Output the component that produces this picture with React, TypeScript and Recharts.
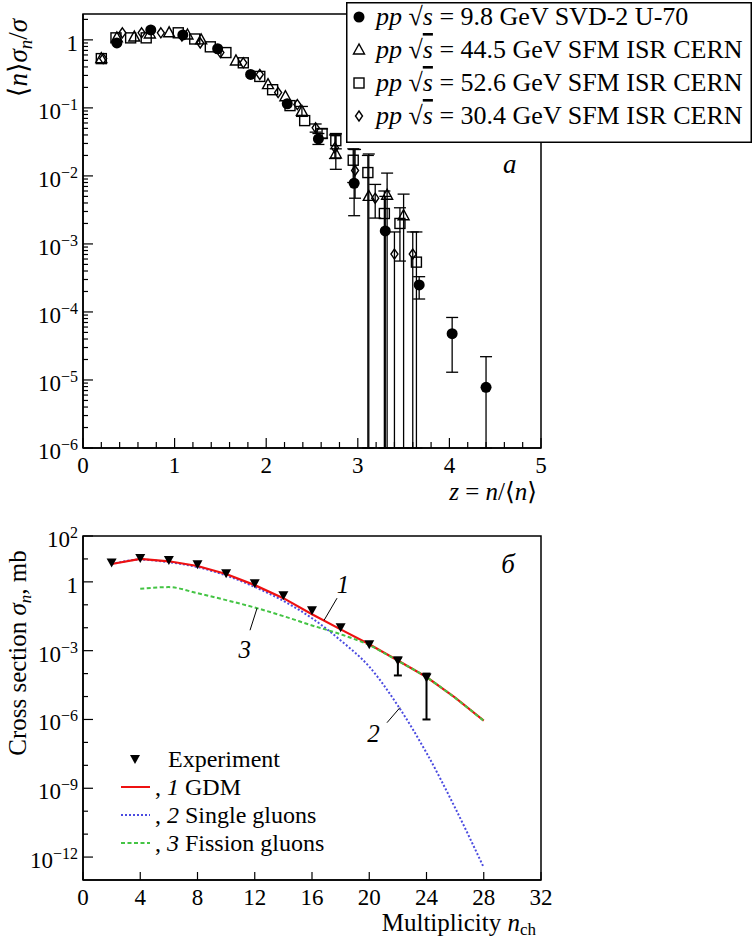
import React from 'react';
import {
  ScatterChart, ComposedChart, Scatter, Line, XAxis, YAxis, ErrorBar,
  ReferenceArea, ReferenceLine, ReferenceDot, Legend,
} from 'recharts';

const FONT = '"Liberation Serif", "DejaVu Serif", serif';
const LOW = 1e-6;      // bottom of the upper panel, error bars that go "below zero" end here
const TOP_MAX = 2.4;
const GAP = 6;         // tickMargin used by the custom ticks

// ---- upper panel: <n> sigma_n / sigma  vs  z = n/<n> ----
// pp sqrt(s) = 9.8 GeV SVD-2 U-70
const z98 = [0.37, 0.74, 1.09, 1.47, 1.83, 2.23, 2.57, 2.96, 3.30, 3.67, 4.03, 4.40];
const v98 = [0.90, 1.40, 1.18, 0.74, 0.31, 0.115, 0.035, 0.0078, 0.00155, 2.5e-4, 4.8e-5, 7.8e-6];
const lo98 = [null, null, null, null, null, null, 0.029, 0.0026, LOW, 1.55e-4, 1.3e-5, LOW];
const hi98 = [null, null, null, null, null, null, 0.042, 0.0245, 0.005, 3.3e-4, 8.3e-5, 2.2e-5];

// pp sqrt(s) = 44.5 GeV SFM ISR CERN
const z445 = [0.20, 0.37, 0.56, 0.73, 0.94, 1.14, 1.29, 1.67, 2.02, 2.21, 2.39, 2.76, 3.12, 3.32, 3.50];
const v445 = [0.53, 1.07, 1.10, 1.22, 1.27, 1.18, 1.00, 0.49, 0.22, 0.146, 0.089, 0.021, 0.0050, 0.0052, 0.0026];
const lo445 = [null, null, null, null, null, null, null, null, null, null, 0.075, 0.0125, LOW, LOW, LOW];
const hi445 = [null, null, null, null, null, null, null, null, null, null, 0.105, 0.041, 0.021, 0.011, 0.0054];

// pp sqrt(s) = 52.6 GeV SFM ISR CERN
const z526 = [0.20, 0.36, 0.52, 0.69, 1.04, 1.22, 1.39, 1.56, 1.75, 1.93, 2.07, 2.26, 2.42, 2.61, 2.76, 2.95, 3.11, 3.29, 3.46, 3.64];
const v526 = [0.53, 1.07, 1.07, 1.07, 1.27, 1.03, 0.79, 0.65, 0.46, 0.29, 0.185, 0.108, 0.065, 0.042, 0.033, 0.017, 0.0112, 0.0028, 0.0020, 5.4e-4];
const lo526 = [null, null, null, null, null, null, null, null, null, null, null, null, null, 0.036, 0.025, 0.008, LOW, LOW, 5.6e-4, LOW];
const hi526 = [null, null, null, null, null, null, null, null, null, null, null, null, null, 0.049, 0.042, 0.025, 0.02, 0.006, 0.0034, 0.0015];

// pp sqrt(s) = 30.4 GeV SFM ISR CERN
const z304 = [0.22, 0.43, 0.64, 0.85, 1.08, 1.28, 1.50, 1.75, 1.93, 2.13, 2.34, 2.54, 2.75, 2.97, 3.19, 3.40, 3.60];
const v304 = [0.53, 1.27, 1.27, 1.27, 1.14, 0.90, 0.65, 0.46, 0.31, 0.168, 0.112, 0.051, 0.026, 0.012, 0.0047, 7.1e-4, 7.1e-4];
const lo304 = [null, null, null, null, null, null, null, null, null, null, null, 0.044, 0.018, 0.0047, 0.0024, LOW, LOW];
const hi304 = [null, null, null, null, null, null, null, null, null, null, null, 0.058, 0.04, 0.0245, 0.0075, 0.0015, 0.0015];

const topLegendLabels = [
  '9.8 GeV SVD-2 U-70',
  '44.5 GeV SFM ISR CERN',
  '52.6 GeV SFM ISR CERN',
  '30.4 GeV SFM ISR CERN',
];

// ---- lower panel: cross section vs multiplicity ----
const nExp = [2, 4, 6, 8, 10, 12, 14, 16, 18, 20, 22, 24];
const sExp = [7, 11, 9, 5.9, 2.4, 0.87, 0.26, 0.058, 0.0105, 0.0019, 3.7e-4, 6.8e-5];
const sExpLo = [null, null, null, null, null, null, null, null, null, null, 8.3e-5, 1e-6];
const sExpHi = [null, null, null, null, null, null, null, null, null, null, 5e-4, 1e-4];

const nTheory = [2, 4, 6, 8, 10, 12, 14, 16, 18, 20, 22, 24, 26, 28];
const sGDM = [6.0, 10, 7.9, 4.9, 2.19, 0.72, 0.195, 0.039, 0.0085, 0.0019, 3.7e-4, 7.1e-5, 8.9e-6, 8.9e-7];
const sSingle = [5.9, 9.3, 7.2, 4.4, 1.9, 0.6, 0.148, 0.026, 0.0028, 2.0e-4, 4e-6, 3.5e-8, 1.4e-10, 3.5e-13];
const nFission = [4, 6, 8, 10, 12, 14, 16, 18, 20, 22, 24, 26, 28];
const sFission = [0.5, 0.59, 0.32, 0.16, 0.076, 0.032, 0.0126, 0.0052, 0.00174, 3.6e-4, 6.9e-5, 8.7e-6, 8.7e-7];

const bottomLegendLabels = ['Experiment', 'GDM', 'Single gluons', 'Fission gluons'];

// ticks
const topXMajor = [0, 1, 2, 3, 4, 5];
const topXTicks = Array.from({ length: 26 }, (_, i) => +(i * 0.2).toFixed(1));
const topYMajor = [1e-6, 1e-5, 1e-4, 1e-3, 1e-2, 1e-1, 1];
const topYTicks: number[] = [];
topYMajor.forEach((m) => {
  for (let k = 1; k <= 9; k++) if (m * k <= TOP_MAX) topYTicks.push(m * k);
});
const botXTicks = [0, 4, 8, 12, 16, 20, 24, 28, 32];
const botYMajorExp = [2, 0, -3, -6, -9, -12];
const botYTicks = Array.from({ length: 15 }, (_, i) => Math.pow(10, 2 - i));

type Pt = { x: number; y: number; err?: [number, number] };
const build = (xs: number[], ys: number[], lo?: (number | null)[], hi?: (number | null)[]): Pt[] =>
  xs.map((x, i) => {
    const l = lo ? lo[i] : null;
    const h = hi ? hi[i] : null;
    return { x, y: ys[i], err: l != null && h != null ? [ys[i] - l, h - ys[i]] : undefined };
  });

const d98 = build(z98, v98, lo98, hi98);
const d445 = build(z445, v445, lo445, hi445);
const d526 = build(z526, v526, lo526, hi526);
const d304 = build(z304, v304, lo304, hi304);
const dExp = build(nExp, sExp, sExpLo, sExpHi);
const dGDM = build(nTheory, sGDM);
const dSingle = build(nTheory, sSingle);
const dFission = build(nFission, sFission);

// markers
const Dot = ({ cx, cy }: any) => <circle cx={cx} cy={cy} r={5.5} fill="#000" />;
const Tri = ({ cx, cy }: any) => (
  <polygon points={`${cx},${cy - 6} ${cx - 5.5},${cy + 4} ${cx + 5.5},${cy + 4}`} fill="none" stroke="#000" strokeWidth={1.4} />
);
const Sq = ({ cx, cy }: any) => (
  <rect x={cx - 5} y={cy - 5} width={10} height={10} fill="none" stroke="#000" strokeWidth={1.4} />
);
const Dia = ({ cx, cy }: any) => (
  <polygon points={`${cx},${cy - 5} ${cx + 3.5},${cy} ${cx},${cy + 5} ${cx - 3.5},${cy}`} fill="none" stroke="#000" strokeWidth={1.4} />
);
const DownTri = ({ cx, cy }: any) => (
  <polygon points={`${cx - 5},${cy - 4} ${cx + 5},${cy - 4} ${cx},${cy + 5}`} fill="#000" />
);

const PowText = ({ x, y, v }: any) => {
  const e = Math.round(Math.log10(v));
  if (e === 0) return <text x={x} y={y} textAnchor="end" fontSize={23} fontFamily={FONT} fill="#000">1</text>;
  return (
    <text x={x} y={y} textAnchor="end" fontSize={23} fontFamily={FONT} fill="#000">
      <tspan>10</tspan>
      <tspan dy={-9} fontSize={16}>{e < 0 ? '\u2212' + -e : String(e)}</tspan>
    </text>
  );
};

const LogYTick = (props: any) => {
  const { x, y, payload, majorExp } = props;
  const v = payload.value;
  const ax = x + GAP;
  const lg = Math.log10(v);
  const major = majorExp.some((e: number) => Math.abs(lg - e) < 1e-6);
  return (
    <g>
      <line x1={ax} x2={ax + (major ? 10 : 5)} y1={y} y2={y} stroke="#000" strokeWidth={1.2} />
      {major && <PowText x={ax - 5} y={y + 11} v={v} />}
    </g>
  );
};

const LinXTick = (props: any) => {
  const { x, y, payload, majors, minorLen, majorLen } = props;
  const v = payload.value;
  const ay = y - GAP;
  const major = majors.includes(v);
  return (
    <g>
      <line x1={x} x2={x} y1={ay} y2={ay - (major ? majorLen : minorLen)} stroke="#000" strokeWidth={1.2} />
      {major && (
        <text x={x} y={ay + 25} textAnchor="middle" fontSize={23} fontFamily={FONT} fill="#000">{v}</text>
      )}
    </g>
  );
};

const it = { fontStyle: 'italic' as const };

const TopLegend = () => {
  const shapes = [Dot, Tri, Sq, Dia];
  return (
    <svg width={406} height={141} style={{ display: 'block' }}>
      <rect x={0.75} y={0.75} width={404.5} height={139.5} fill="#fff" stroke="#000" strokeWidth={1.5} />
      {topLegendLabels.map((t, i) => {
        const cy = 15 + i * 33;
        const Mk = shapes[i];
        return (
          <g key={t}>
            <Mk cx={13} cy={cy} />
            <text x={30} y={cy + 8} fontSize={26} fontFamily={FONT} fill="#000">
              <tspan style={it}>pp</tspan>
              <tspan> {'\u221A'}</tspan>
              <tspan style={{ ...it, textDecoration: 'overline' }}>s</tspan>
              <tspan> = {t}</tspan>
            </text>
          </g>
        );
      })}
    </svg>
  );
};

const BottomLegend = () => {
  const rows = [34, 62, 90, 118];
  const styles = [
    null,
    { stroke: '#ee1111', dash: undefined, num: '1' },
    { stroke: '#4b4be0', dash: '2 2', num: '2' },
    { stroke: '#44c444', dash: '4 2.5', num: '3' },
  ];
  return (
    <svg width={270} height={135} style={{ display: 'block' }}>
      {bottomLegendLabels.map((t, i) => {
        const cy = rows[i];
        const s = styles[i];
        if (!s) {
          return (
            <g key={t}>
              <DownTri cx={25} cy={cy} />
              <text x={58} y={cy + 8} fontSize={24} fontFamily={FONT} fill="#000">{t}</text>
            </g>
          );
        }
        return (
          <g key={t}>
            <line x1={11} x2={40} y1={cy} y2={cy} stroke={s.stroke} strokeWidth={2} strokeDasharray={s.dash} />
            <text x={45} y={cy + 8} fontSize={24} fontFamily={FONT} fill="#000">
              <tspan>, </tspan>
              <tspan style={it}>{s.num}</tspan>
              <tspan> {t}</tspan>
            </text>
          </g>
        );
      })}
    </svg>
  );
};

const TextMark = (label: string, size = 24) => (p: any) => (
  <text x={p.cx} y={p.cy} textAnchor="middle" fontSize={size} fontFamily={FONT} style={it} fill="#000">{label}</text>
);

const curveLabels = [
  { t: '1', x: 18.17, y: Math.pow(10, -0.49) },
  { t: '3', x: 11.3, y: Math.pow(10, -3.3) },
  { t: '2', x: 20.3, y: Math.pow(10, -7.0) },
];
const leaders = [
  [{ x: 17.75, y: 0.195 }, { x: 16.84, y: 0.021 }],
  [{ x: 12.16, y: Math.pow(10, -1.15) }, { x: 11.67, y: Math.pow(10, -2.11) }],
  [{ x: 22.15, y: Math.pow(10, -5.48) }, { x: 21.24, y: Math.pow(10, -6.14) }],
];

export default function App() {
  return (
    <div style={{ position: 'absolute', left: 0, top: 0, width: 754, height: 941, background: '#fff', fontFamily: FONT }}>
      <div style={{ position: 'absolute', left: 0, top: 0 }}>
        <ScatterChart width={754} height={520} margin={{ top: 14, right: 213, bottom: 0, left: 0 }}>
          <XAxis
            type="number" dataKey="x" domain={[0, 5]} ticks={topXTicks} interval={0} allowDataOverflow
            height={72} tickSize={0} tickMargin={GAP} axisLine={{ stroke: '#000', strokeWidth: 1.5 }}
            tick={(p: any) => <LinXTick {...p} majors={topXMajor} minorLen={6} majorLen={10} />}
            label={{
              content: () => (
                <text x={537} y={500} textAnchor="end" fontSize={25} fontFamily={FONT} fill="#000">
                  <tspan style={it}>z</tspan> = <tspan style={it}>n</tspan>/{'\u27E8'}<tspan style={it}>n</tspan>{'\u27E9'}
                </text>
              ),
            }}
          />
          <YAxis
            type="number" dataKey="y" scale="log" domain={[LOW, TOP_MAX]} ticks={topYTicks} interval={0}
            allowDataOverflow width={83} tickSize={0} tickMargin={GAP}
            axisLine={{ stroke: '#000', strokeWidth: 1.5 }}
            tick={(p: any) => <LogYTick {...p} majorExp={[-6, -5, -4, -3, -2, -1, 0]} />}
            label={{
              content: () => (
                <text transform="translate(27,58) rotate(-90)" textAnchor="middle" fontSize={27} fontFamily={FONT} fill="#000">
                  {'\u27E8'}<tspan style={it}>n</tspan>{'\u27E9'}<tspan style={it}>{'\u03C3'}</tspan>
                  <tspan style={it} fontSize={19} dy={5}>n</tspan>
                  <tspan dy={-5}>/</tspan><tspan style={it}>{'\u03C3'}</tspan>
                </text>
              ),
            }}
          />
          <ReferenceArea x1={0} x2={5} y1={LOW} y2={TOP_MAX} fill="none" fillOpacity={0} stroke="#000" strokeWidth={1.5} ifOverflow="visible" />
          <Scatter data={d526} dataKey="y" shape={Sq} isAnimationActive={false}>
            <ErrorBar dataKey="err" direction="y" width={6} stroke="#000" strokeWidth={1.3} />
          </Scatter>
          <Scatter data={d445} dataKey="y" shape={Tri} isAnimationActive={false}>
            <ErrorBar dataKey="err" direction="y" width={6} stroke="#000" strokeWidth={1.3} />
          </Scatter>
          <Scatter data={d304} dataKey="y" shape={Dia} isAnimationActive={false}>
            <ErrorBar dataKey="err" direction="y" width={6} stroke="#000" strokeWidth={1.3} />
          </Scatter>
          <Scatter data={d98} dataKey="y" shape={Dot} isAnimationActive={false}>
            <ErrorBar dataKey="err" direction="y" width={6} stroke="#000" strokeWidth={1.3} />
          </Scatter>
          <ReferenceDot x={4.66} y={0.011} r={0} ifOverflow="visible" shape={TextMark('a', 27)} />
          <Legend
            layout="vertical" align="center" verticalAlign="middle"
            wrapperStyle={{ position: 'absolute', left: 346, top: 2, width: 406, height: 141 }}
            content={() => <TopLegend />}
          />
        </ScatterChart>
      </div>

      <div style={{ position: 'absolute', left: 0, top: 520 }}>
        <ComposedChart width={754} height={421} margin={{ top: 16, right: 213, bottom: 0, left: 0 }}>
          <XAxis
            type="number" dataKey="x" domain={[0, 32]} ticks={botXTicks} interval={0} allowDataOverflow
            height={61} tickSize={0} tickMargin={GAP} axisLine={{ stroke: '#000', strokeWidth: 1.5 }}
            tick={(p: any) => <LinXTick {...p} majors={botXTicks} minorLen={6} majorLen={8} />}
            label={{
              content: () => (
                <text x={536} y={411} textAnchor="end" fontSize={25} fontFamily={FONT} fill="#000">
                  Multiplicity <tspan style={it}>n</tspan><tspan fontSize={17} dy={4}>ch</tspan>
                </text>
              ),
            }}
          />
          <YAxis
            type="number" dataKey="y" scale="log" domain={[1e-13, 1e2]} ticks={botYTicks} interval={0}
            allowDataOverflow width={83} tickSize={0} tickMargin={GAP}
            axisLine={{ stroke: '#000', strokeWidth: 1.5 }}
            tick={(p: any) => <LogYTick {...p} majorExp={botYMajorExp} />}
            label={{
              content: () => (
                <text transform="translate(26,133) rotate(-90)" textAnchor="middle" fontSize={25} fontFamily={FONT} fill="#000">
                  Cross section <tspan style={it}>{'\u03C3'}</tspan><tspan style={it} fontSize={17} dy={5}>n</tspan>
                  <tspan dy={-5}>, mb</tspan>
                </text>
              ),
            }}
          />
          <ReferenceArea x1={0} x2={32} y1={1e-13} y2={1e2} fill="none" fillOpacity={0} stroke="#000" strokeWidth={1.5} ifOverflow="visible" />
          <Line data={dSingle} dataKey="y" type="monotone" stroke="#4b4be0" strokeWidth={2} strokeDasharray="2 2" dot={false} isAnimationActive={false} />
          <Line data={dGDM} dataKey="y" type="linear" stroke="#ee1111" strokeWidth={2.2} dot={false} isAnimationActive={false} />
          <Line data={dFission} dataKey="y" type="monotone" stroke="#44c444" strokeWidth={2} strokeDasharray="4 2.5" dot={false} isAnimationActive={false} />
          <Scatter data={dExp} dataKey="y" shape={DownTri} isAnimationActive={false}>
            <ErrorBar dataKey="err" direction="y" width={4} stroke="#000" strokeWidth={2} />
          </Scatter>
          {leaders.map((seg, i) => (
            <ReferenceLine key={i} segment={seg} stroke="#000" strokeWidth={1} ifOverflow="visible" />
          ))}
          {curveLabels.map((c) => (
            <ReferenceDot key={c.t} x={c.x} y={c.y} r={0} ifOverflow="visible" shape={TextMark(c.t, 25)} />
          ))}
          <ReferenceDot x={29.7} y={Math.pow(10, 0.38)} r={0} ifOverflow="visible" shape={TextMark('\u0431', 27)} />
          <Legend
            layout="vertical" align="center" verticalAlign="middle"
            wrapperStyle={{ position: 'absolute', left: 110, top: 205, width: 270, height: 135 }}
            content={() => <BottomLegend />}
          />
        </ComposedChart>
      </div>
    </div>
  );
}
